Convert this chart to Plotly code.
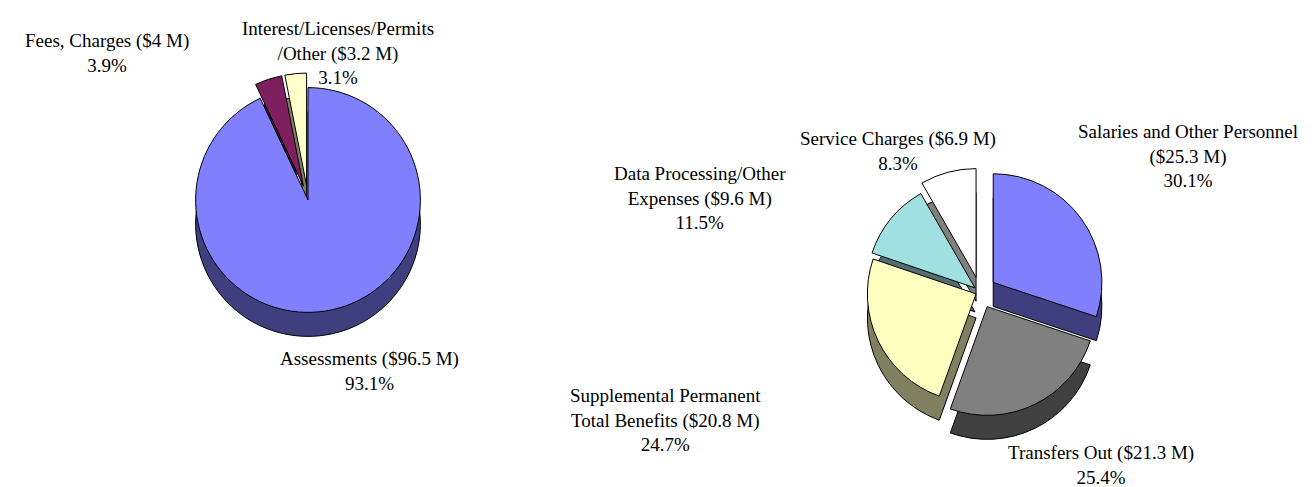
import plotly.graph_objects as go

W, H = 1312, 487

# ---- Revenue pie (left) ----
rev_names = ["Assessments", "Fees, Charges", "Interest/Licenses/Permits<br>/Other"]
rev_amounts = ["$96.5 M", "$4 M", "$3.2 M"]
rev_pct = [93.1, 3.9, 3.1]
rev_top = ["#8080FF", "#801F60", "#FFFFCC"]
rev_side = ["#3F3F7F", "#3F0F2F", "#7F7F60"]
rev_pull = [0.0, 0.13, 0.13]

# ---- Expense pie (right) ----
exp_names = ["Salaries and Other Personnel<br>", "Transfers Out",
             "Supplemental Permanent<br>Total Benefits",
             "Data Processing/Other<br>Expenses", "Service Charges"]
exp_amounts = ["$25.3 M", "$21.3 M", "$20.8 M", "$9.6 M", "$6.9 M"]
exp_pct = [30.1, 25.4, 24.7, 11.5, 8.3]
exp_top = ["#8080FF", "#808080", "#FFFFC0", "#A0E0E0", "#FFFFFF"]
exp_side = ["#3F3F7F", "#404040", "#808060", "#507070", "#808080"]
exp_pull = [0.15, 0.15, 0.04, 0.06, 0.14]

FONT = "Liberation Serif, Times New Roman, serif"
DEPTH = 24  # px thickness of the pie side


def px_dom(cx, cy, size, dy=0):
    half = size / 2
    return dict(
        x=[(cx - half) / W, (cx + half) / W],
        y=[1 - (cy + half + dy) / H, 1 - (cy - half + dy) / H],
    )


fig = go.Figure()


def add_pie(values, top, side, pull, cx, cy, size):
    common = dict(values=values, sort=False, direction="clockwise", rotation=0,
                  pull=pull, textinfo="none", hoverinfo="skip", showlegend=False)
    fig.add_trace(go.Pie(domain=px_dom(cx, cy, size, DEPTH),
                         marker=dict(colors=side, line=dict(color="black", width=1)),
                         **common))
    fig.add_trace(go.Pie(domain=px_dom(cx, cy, size),
                         marker=dict(colors=top, line=dict(color="black", width=1)),
                         **common))


add_pie(rev_pct, rev_top, rev_side, rev_pull, 300, 192, 254)
add_pie(exp_pct, exp_top, exp_side, exp_pull, 972, 284, 250)


def label(name, amount, pct):
    sep = "" if name.endswith("<br>") else " "
    return f"{name}{sep}({amount})<br>{pct}%"


rev_pos = [(361, 363), (99, 45), (330, 45)]
exp_pos = [(1180, 148), (1093, 457), (657, 412), (692, 190), (890, 143)]

for names, amts, pcts, pos in ((rev_names, rev_amounts, rev_pct, rev_pos),
                               (exp_names, exp_amounts, exp_pct, exp_pos)):
    for n, a, p, (x, y) in zip(names, amts, pcts, pos):
        fig.add_annotation(text=label(n, a, p), x=x / W, y=1 - y / H,
                           xref="paper", yref="paper", xanchor="center",
                           yanchor="middle", showarrow=False, align="center",
                           font=dict(family=FONT, size=19, color="black"))

fig.update_layout(width=W, height=H, margin=dict(l=0, r=0, t=0, b=0),
                  paper_bgcolor="white", plot_bgcolor="white")

fig.write_html("out.html")
